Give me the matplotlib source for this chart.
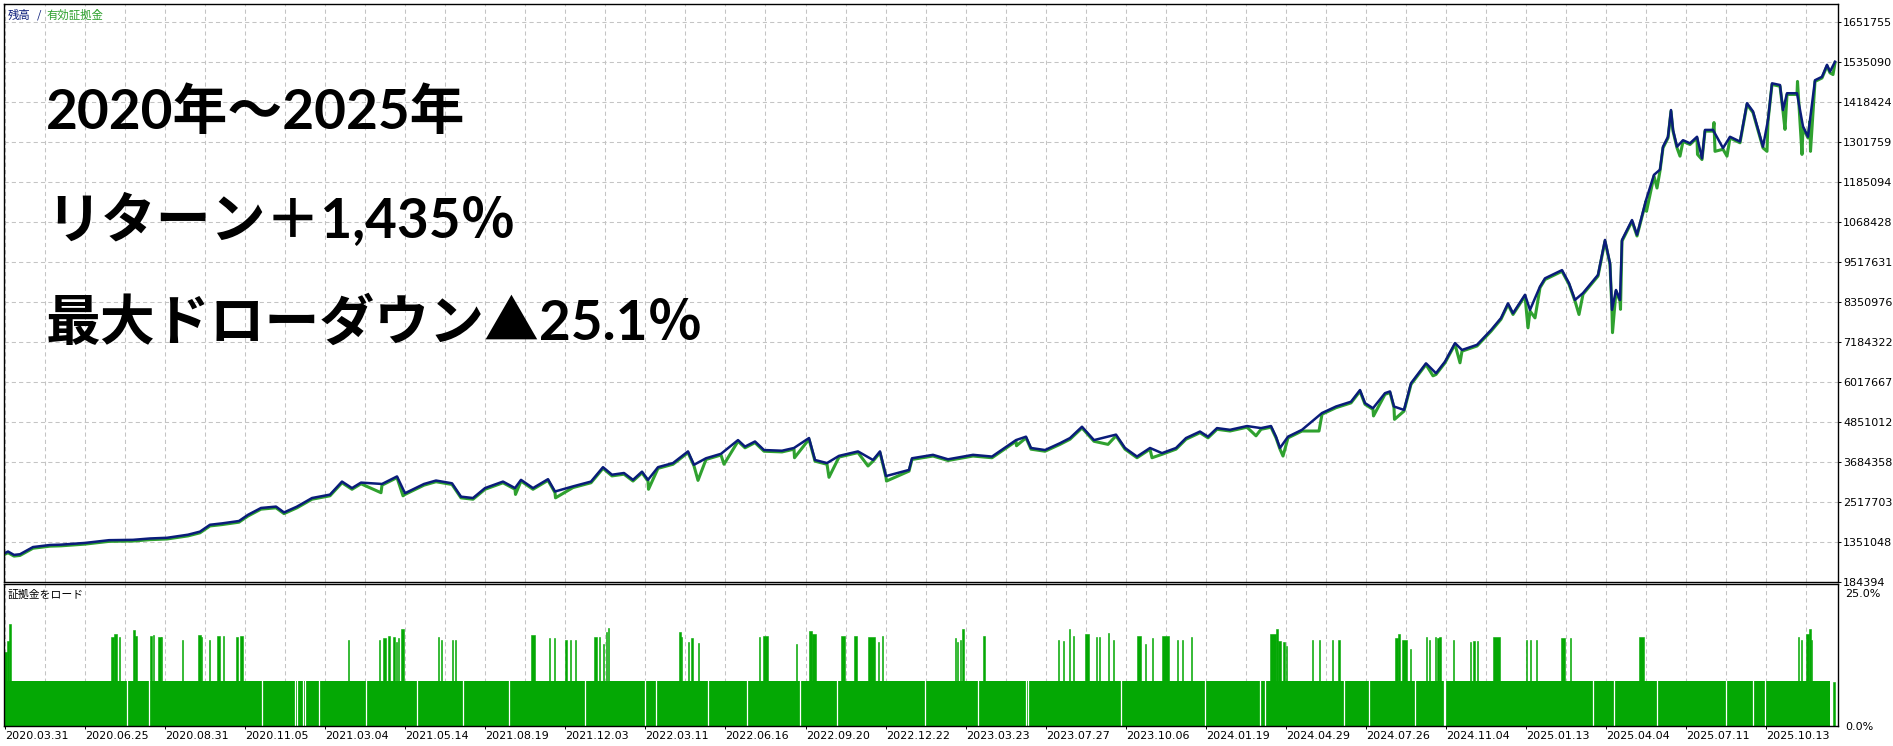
import matplotlib
matplotlib.use("Agg")
import matplotlib.pyplot as plt
import matplotlib.transforms as mtransforms

plt.rcParams['font.family'] = ['DejaVu Sans']
JP = ['Noto Sans CJK JP', 'DejaVu Sans']
BIG_FONT = ['Lato', 'Noto Sans CJK JP', 'DejaVu Sans']

W, H = 1893, 746
NAVY = '#0a1c7a'
EQ_GREEN = '#2fa12f'
BAR_GREEN = '#04a804'
GRID = '#c4c4c4'

# balance curve: bar index, value in millions
BAL_X = [4, 8, 14, 20, 33, 50, 61, 85, 109, 133, 150, 167, 188, 200, 210, 222, 239, 248, 261, 276,
         284, 297, 312, 330, 342, 352, 361, 382, 397, 405, 424, 436, 452, 461, 473, 485, 503, 515, 521, 533,
         548, 555, 573, 591, 603, 612, 624, 633, 642, 648, 658, 673, 688, 694, 706, 721, 738, 745, 755, 764,
         782, 794, 809, 815, 827, 839, 858, 873, 880, 886, 909, 912, 933, 948, 973, 992, 1016, 1026, 1031, 1045,
         1060, 1070, 1082, 1094, 1116, 1125, 1137, 1150, 1162, 1176, 1186, 1200, 1208, 1217, 1230, 1247, 1261, 1271, 1276, 1280,
         1288, 1302, 1322, 1336, 1351, 1360, 1365, 1373, 1385, 1390, 1394, 1404, 1411, 1426, 1436, 1445, 1455, 1462, 1477, 1491,
         1501, 1508, 1513, 1525, 1530, 1540, 1545, 1562, 1569, 1575, 1583, 1598, 1605, 1610, 1612, 1616, 1620, 1622, 1632, 1637,
         1646, 1654, 1660, 1663, 1668, 1671, 1673, 1677, 1683, 1690, 1697, 1702, 1705, 1713, 1723, 1730, 1740, 1747, 1753, 1763,
         1768, 1772, 1780, 1783, 1787, 1797, 1803, 1808, 1810, 1815, 1822, 1827, 1830, 1835]
BAL_M = [1.00, 1.06, 0.96, 0.98, 1.19, 1.25, 1.26, 1.31, 1.39, 1.40, 1.44, 1.46, 1.55, 1.64, 1.84, 1.88, 1.95, 2.13, 2.33, 2.37,
         2.20, 2.37, 2.62, 2.72, 3.10, 2.91, 3.07, 3.03, 3.25, 2.76, 3.03, 3.13, 3.05, 2.66, 2.62, 2.91, 3.10, 2.91, 3.15, 2.91,
         3.17, 2.81, 2.96, 3.10, 3.52, 3.30, 3.35, 3.15, 3.39, 3.15, 3.52, 3.64, 3.98, 3.59, 3.78, 3.91, 4.31, 4.12, 4.27, 4.02,
         4.00, 4.08, 4.37, 3.73, 3.64, 3.85, 3.98, 3.73, 3.98, 3.26, 3.44, 3.78, 3.88, 3.75, 3.88, 3.83, 4.31, 4.41, 4.08, 4.02,
         4.22, 4.37, 4.70, 4.31, 4.47, 4.08, 3.83, 4.08, 3.93, 4.08, 4.37, 4.56, 4.41, 4.66, 4.61, 4.72, 4.66, 4.72, 4.41, 4.08,
         4.41, 4.61, 5.10, 5.29, 5.43, 5.77, 5.39, 5.24, 5.68, 5.73, 5.29, 5.19, 5.97, 6.55, 6.26, 6.60, 7.14, 6.94, 7.09, 7.52,
         7.87, 8.30, 8.01, 8.55, 8.11, 8.79, 9.03, 9.27, 8.89, 8.40, 8.60, 9.13, 10.15, 9.47, 8.11, 8.69, 8.40, 10.15, 10.73, 10.30,
         11.31, 12.05, 12.20, 12.87, 13.16, 13.94, 13.36, 12.87, 13.06, 12.97, 13.16, 12.53, 13.36, 13.36, 12.83, 13.16, 13.02, 14.14, 13.90, 12.87,
         13.65, 14.72, 14.67, 13.94, 14.43, 14.43, 13.46, 13.16, 13.65, 14.81, 14.91, 15.26, 15.06, 15.35]

# equity deviates from balance at these points
EQ_X = [381, 403, 515.5, 555.5, 648.5, 698, 724, 794.5, 829, 868, 886.5, 1016.5, 1108, 1152, 1256, 1283, 1319, 1373.5,
        1394.5, 1433, 1460, 1528, 1535, 1579, 1612.5, 1620.5, 1646.5, 1657, 1680, 1697.5, 1714, 1715, 1727, 1767,
        1785, 1797.5, 1802, 1810.5, 1833]
EQ_M = [2.81, 2.72, 2.76, 2.66, 2.91, 3.17, 3.64, 3.83, 3.26, 3.59, 3.15, 4.18, 4.22, 3.83, 4.47, 3.88, 4.61, 5.05,
        4.95, 6.22, 6.60, 7.62, 7.91, 8.01, 7.48, 8.16, 11.02, 11.70, 12.63, 12.68, 13.61, 12.77, 12.63, 12.77,
        13.41, 14.81, 12.68, 12.77, 15.01]

Y_TICKS = [184394, 1351048, 2517703, 3684358, 4851012, 6017667, 7184322, 8350976, 9517631,
           10684286, 11850940, 13017595, 14184250, 15350904, 16517559]
Y_LABELS = ['184394', '1351048', '2517703', '3684358', '4851012', '6017667', '7184322', '8350976', '9517631',
            '1068428', '1185094', '1301759', '1418424', '1535090', '1651755']

DATE_POS = [5, 85, 165, 245, 325, 405, 485, 565, 645, 725, 806, 886, 966, 1046, 1126, 1206,
            1286, 1366, 1446, 1526, 1606, 1686, 1766]
DATE_LABELS = ['2020.03.31', '2020.06.25', '2020.08.31', '2020.11.05', '2021.03.04', '2021.05.14',
               '2021.08.19', '2021.12.03', '2022.03.11', '2022.06.16', '2022.09.20', '2022.12.22',
               '2023.03.23', '2023.07.27', '2023.10.06', '2024.01.19', '2024.04.29', '2024.07.26',
               '2024.11.04', '2025.01.13', '2025.04.04', '2025.07.11', '2025.10.13']

# margin load (%)
LOAD_BASE = 8.4
LOAD_START, LOAD_END = 4, 1829.5
LOAD_TAIL = (1832.5, 1834.5, 8.3)
SPIKES = [
    (4, 7, 13.8), (7, 9, 15.9), (9, 11, 19.1),
    (111, 114, 16.7), (114, 117, 17.3), (118.5, 120, 16.6),
    (132.5, 135, 18.0), (135, 136.5, 16.8), (149.5, 151.5, 16.8), (152.5, 154, 17.0),
    (157.5, 160.5, 16.6), (160.5, 162, 16.7), (181.5, 183, 16.1), (198, 200.5, 17.1), (200.5, 201.5, 16.7),
    (208.5, 210, 16.1), (217, 220, 16.8), (222.5, 224, 16.8), (236, 237.5, 16.6), (239.5, 243, 16.9),
    (347.5, 349, 16.2), (378.5, 380, 16.1), (383, 386, 16.4), (387.5, 390, 16.8), (393, 394.5, 16.6),
    (395.5, 397, 15.7), (398, 399, 16.4), (400.5, 403.5, 18.1),
    (437.5, 439, 16.7), (440.5, 442, 16.2), (451.5, 453, 16.2), (454.5, 456, 16.2),
    (530.5, 535, 17.0), (548.5, 550, 16.4), (553.5, 555, 16.4),
    (565, 566.5, 16.1), (569.5, 571, 16.1), (574.5, 576, 16.1),
    (593.5, 597, 16.6), (598.5, 600, 16.6), (602.5, 604, 15.4), (605.5, 607, 17.6), (607.5, 609, 18.3),
    (678.5, 680.5, 17.6), (680.5, 682, 16.7), (687.5, 689, 15.7), (691, 692.5, 16.4), (697.5, 699, 15.6),
    (758.5, 760, 16.6), (762.5, 768, 16.8), (795.5, 797, 15.4), (808.5, 811.5, 17.8), (811.5, 816, 17.3),
    (840.5, 845, 16.8), (853.5, 856.5, 16.8), (867.5, 874.5, 16.7), (877.5, 879, 15.7), (881.5, 883, 16.8),
    (954.5, 956, 16.4), (956.5, 958, 15.7), (959.5, 961, 16.2), (962, 964, 18.1), (982.5, 985, 16.8),
    (1057.5, 1059, 16.1), (1062.5, 1064, 15.9), (1068.5, 1070, 18.1), (1072.5, 1074, 16.8),
    (1084.5, 1088.5, 17.3), (1095.5, 1097, 16.6), (1098.5, 1100, 16.6), (1107.5, 1109, 17.5), (1112.5, 1114, 16.2),
    (1136.5, 1140.5, 16.8), (1144.5, 1146, 15.4), (1151.5, 1153, 16.4),
    (1161.5, 1168.5, 16.8), (1176.5, 1178, 16.2), (1181.5, 1183, 16.1), (1190.5, 1192, 16.7),
    (1270, 1276, 17.3), (1276, 1278, 18.1), (1278, 1281, 16.0), (1283, 1284.5, 15.7), (1285.5, 1287, 14.9),
    (1311.5, 1313, 16.2), (1318.5, 1320, 16.2), (1331.5, 1333, 16.2), (1338, 1339.5, 16.2),
    (1394.5, 1398, 16.4), (1398, 1400, 17.3), (1402, 1407, 16.1), (1409.5, 1411, 14.5),
    (1425.5, 1427, 16.6), (1428.5, 1430, 16.2), (1434.5, 1436, 16.6), (1437, 1438.5, 16.4), (1439, 1441, 16.6),
    (1452.5, 1454, 16.1), (1469.5, 1471, 15.7), (1473, 1474.5, 15.9), (1476.5, 1478, 15.9),
    (1492.5, 1499.5, 16.7), (1525.5, 1527, 16.2), (1529.5, 1531, 16.2), (1535.5, 1537, 16.2),
    (1560.5, 1564.5, 16.4), (1569.5, 1571, 16.4), (1638.5, 1643.5, 16.6),
    (1797.5, 1799, 16.6), (1800.5, 1802, 16.2), (1805.5, 1808.5, 17.3), (1808.5, 1810.5, 18.1), (1810.5, 1812, 16.2),
]
GAPS = [127, 149, 262, 295, 296.5, 303, 304.5, 319, 366, 417, 463, 509, 585, 645, 656, 708, 747, 800, 837,
        925, 978, 1026, 1028, 1121, 1205, 1260, 1265, 1344, 1369, 1415, 1443.5, 1445, 1593, 1614, 1657,
        1726, 1753, 1765]

fig = plt.figure(figsize=(W / 100, H / 100), dpi=100)
ax = fig.add_axes([4 / W, 1 - 581.5 / H, (1838 - 4) / W, (581.5 - 4) / H])
ax2 = fig.add_axes([4 / W, 1 - 726 / H, (1838 - 4) / W, (726 - 584) / H])

grid_kw = dict(color=GRID, linestyle=(0, (4, 3)), linewidth=0.75)
minor_pos = [p + 40 for p in DATE_POS]

# ---- both panels
for a in (ax, ax2):
    a.set_xlim(4, 1838)
    for s in a.spines.values():
        s.set_linewidth(1.0)
        s.set_color('black')
    a.set_xticks(DATE_POS)
    a.set_xticks(minor_pos, minor=True)
    a.grid(True, axis='x', which='both', **grid_kw)
    a.set_axisbelow(True)
    a.yaxis.tick_right()

# ---- main panel
ax.set_ylim(184394, 17033800)
ax.set_yticks(Y_TICKS)
ax.set_yticklabels(Y_LABELS)
ax.grid(True, axis='y', **grid_kw)
ax.tick_params(axis='x', which='both', length=0, labelbottom=False)
ax.tick_params(axis='y', length=2.2, width=0.7, pad=1.5, labelsize=8, colors='black')

eq = sorted(list(zip(BAL_X, BAL_M)) + list(zip(EQ_X, EQ_M)))
eq_x = [p[0] for p in eq]
eq_y = [p[1] * 1e6 for p in eq]
shift = mtransforms.offset_copy(ax.transData, fig=fig, x=0, y=-1.2, units='dots')
ax.plot(eq_x, eq_y, color=EQ_GREEN, linewidth=2.2, transform=shift)
ax.plot(BAL_X, [v * 1e6 for v in BAL_M], color=NAVY, linewidth=1.8)

# ---- margin load panel
ax2.set_ylim(0, 26.6)
ax2.set_yticks([0, 25])
ax2.set_yticklabels(['0.0%', '25.0%'])
ax2.tick_params(axis='y', length=0, pad=5, labelsize=8)
ax2.set_xticklabels(DATE_LABELS, ha='left')
ax2.tick_params(axis='x', which='major', length=2.5, width=0.7, pad=1, labelsize=8)
ax2.tick_params(axis='x', which='minor', length=0)

ax2.fill_between([LOAD_START, LOAD_END], 0, LOAD_BASE, color=BAR_GREEN, linewidth=0)
ax2.bar([s[0] for s in SPIKES], [s[2] for s in SPIKES], width=[s[1] - s[0] for s in SPIKES],
        align='edge', color=BAR_GREEN, edgecolor=BAR_GREEN, linewidth=0.4)
ax2.bar(LOAD_TAIL[0], LOAD_TAIL[2], width=LOAD_TAIL[1] - LOAD_TAIL[0], align='edge',
        color=BAR_GREEN, edgecolor=BAR_GREEN, linewidth=0.4)
ax2.vlines(GAPS, 0, LOAD_BASE + 0.3, color='white', linewidth=0.9)

# ---- texts
fig.text(8 / W, 1 - 15 / H, '残高', color=NAVY, fontsize=8.2, family=JP, va='center')
fig.text(37 / W, 1 - 15 / H, '/', color=NAVY, fontsize=8.2, family=JP, va='center')
fig.text(47 / W, 1 - 15 / H, '有効証拠金', color=EQ_GREEN, fontsize=8.2, family=JP, va='center')
fig.text(8 / W, 1 - 595 / H, '証拠金をロード', color='black', fontsize=7.8, family=JP, va='center')

big = dict(fontsize=39.5, fontweight='bold', family=BIG_FONT, va='center', color='black')
fig.text(46 / W, 1 - 112 / H, '2020年～2025年', **big)
fig.text(46 / W, 1 - 220 / H, 'リターン＋1,435％', **big)
fig.text(46 / W, 1 - 323 / H, '最大ドローダウン▲25.1％', **big)

fig.savefig('out.png', dpi=100)
